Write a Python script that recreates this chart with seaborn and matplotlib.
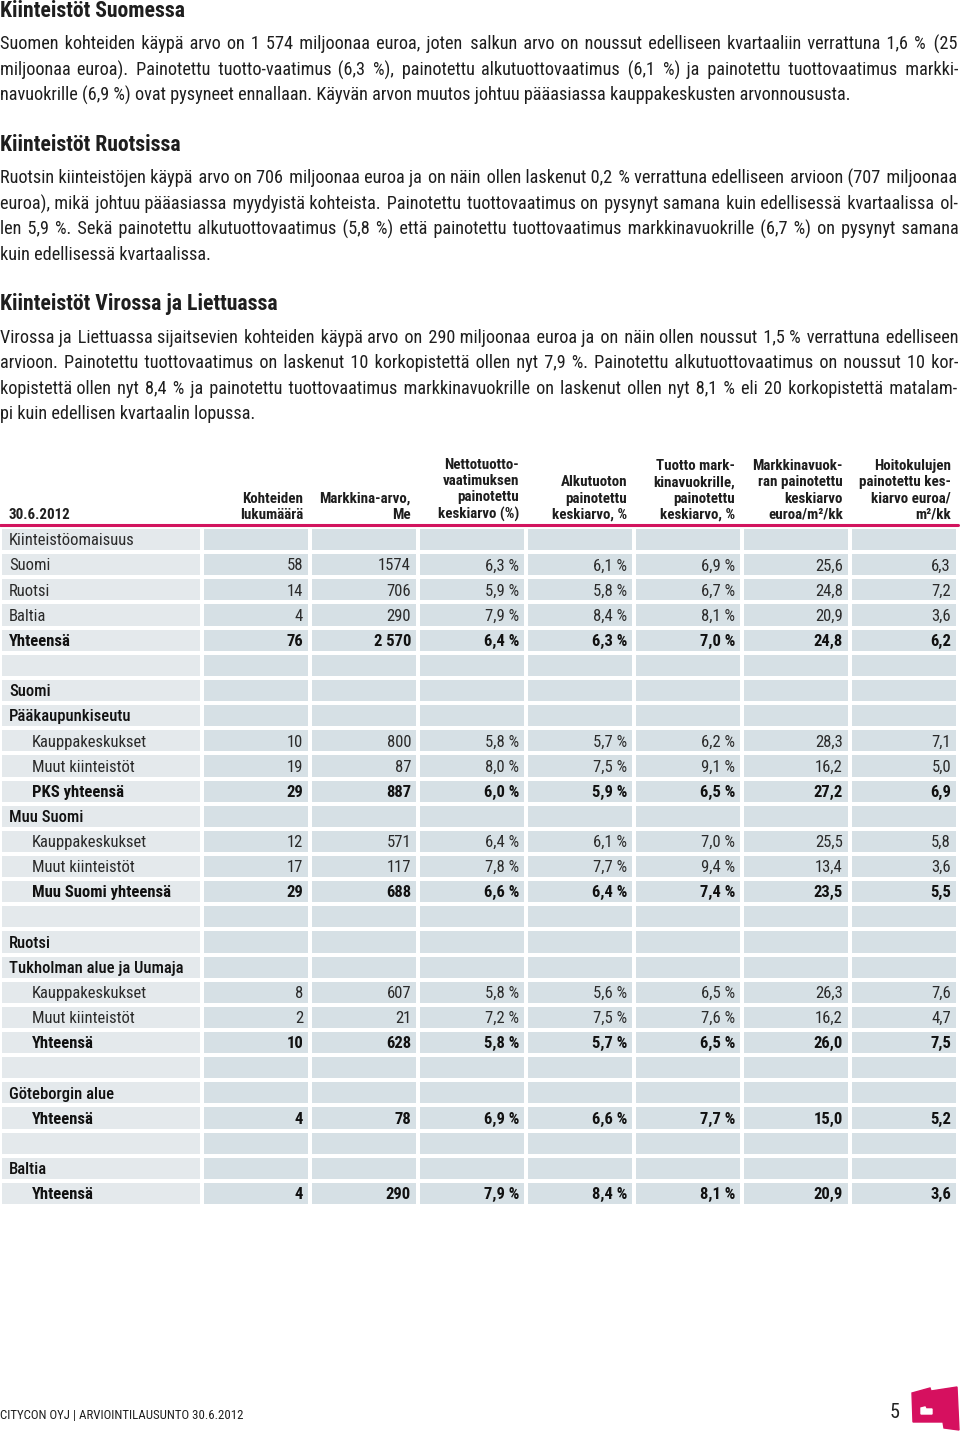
import matplotlib
matplotlib.use("Agg")
import numpy as np
import seaborn as sns
import matplotlib.pyplot as plt
from matplotlib import font_manager
from matplotlib.colors import ListedColormap
from matplotlib.patches import Polygon

# ---------------- Data ----------------
headings = ["Kiinteistöt Suomessa", "Kiinteistöt Ruotsissa", "Kiinteistöt Virossa ja Liettuassa"]

paragraphs = [
    ["Suomen kohteiden käypä arvo on 1 574 miljoonaa euroa, joten salkun arvo on noussut edelliseen kvartaaliin verrattuna 1,6 % (25",
     "miljoonaa euroa). Painotettu tuotto-vaatimus (6,3 %), painotettu alkutuottovaatimus (6,1 %) ja painotettu tuottovaatimus markki-",
     "navuokrille (6,9 %) ovat pysyneet ennallaan. Käyvän arvon muutos johtuu pääasiassa kauppakeskusten arvonnoususta."],
    ["Ruotsin kiinteistöjen käypä arvo on 706 miljoonaa euroa ja on näin ollen laskenut 0,2 % verrattuna edelliseen arvioon (707 miljoonaa",
     "euroa), mikä johtuu pääasiassa myydyistä kohteista. Painotettu tuottovaatimus on pysynyt samana kuin edellisessä kvartaalissa ol-",
     "len 5,9 %. Sekä painotettu alkutuottovaatimus (5,8 %) että painotettu tuottovaatimus markkinavuokrille (6,7 %) on pysynyt samana",
     "kuin edellisessä kvartaalissa."],
    ["Virossa ja Liettuassa sijaitsevien kohteiden käypä arvo on 290 miljoonaa euroa ja on näin ollen noussut 1,5 % verrattuna edelliseen",
     "arvioon. Painotettu tuottovaatimus on laskenut 10 korkopistettä ollen nyt 7,9 %. Painotettu alkutuottovaatimus on noussut 10 kor-",
     "kopistettä ollen nyt 8,4 % ja painotettu tuottovaatimus markkinavuokrille on laskenut ollen nyt 8,1 % eli 20 korkopistettä matalam-",
     "pi kuin edellisen kvartaalin lopussa."],
]

date_label = "30.6.2012"
col_headers = [
    "Kohteiden\nlukumäärä",
    "Markkina-arvo,\nMe",
    "Nettotuotto-\nvaatimuksen\npainotettu\nkeskiarvo (%)",
    "Alkutuoton\npainotettu\nkeskiarvo, %",
    "Tuotto mark-\nkinavuokrille,\npainotettu\nkeskiarvo, %",
    "Markkinavuok-\nran painotettu\nkeskiarvo\neuroa/m²/kk",
    "Hoitokulujen\npainotettu kes-\nkiarvo euroa/\nm²/kk",
]

row_labels = ["Kiinteistöomaisuus", "Suomi", "Ruotsi", "Baltia", "Yhteensä", "",
              "Suomi", "Pääkaupunkiseutu", "Kauppakeskukset", "Muut kiinteistöt", "PKS yhteensä",
              "Muu Suomi", "Kauppakeskukset", "Muut kiinteistöt", "Muu Suomi yhteensä", "",
              "Ruotsi", "Tukholman alue ja Uumaja", "Kauppakeskukset", "Muut kiinteistöt", "Yhteensä", "",
              "Göteborgin alue", "Yhteensä", "", "Baltia", "Yhteensä"]
row_indent = [0, 0, 0, 0, 0, 0,
              0, 0, 1, 1, 1, 0, 1, 1, 1, 0,
              0, 0, 1, 1, 1, 0,
              0, 1, 0, 0, 1]
# n = normal, m = section header, b = total row
row_kind = ["n", "n", "n", "n", "b", "n",
            "m", "m", "n", "n", "b", "m", "n", "n", "b", "n",
            "m", "m", "n", "n", "b", "n",
            "m", "b", "n", "m", "b"]

count = [None, 58, 14, 4, 76, None,
         None, None, 10, 19, 29, None, 12, 17, 29, None,
         None, None, 8, 2, 10, None,
         None, 4, None, None, 4]
market_value = [None, "1574", "706", "290", "2 570", None,
                None, None, "800", "87", "887", None, "571", "117", "688", None,
                None, None, "607", "21", "628", None,
                None, "78", None, None, "290"]
net_yield = [None, 6.3, 5.9, 7.9, 6.4, None,
             None, None, 5.8, 8.0, 6.0, None, 6.4, 7.8, 6.6, None,
             None, None, 5.8, 7.2, 5.8, None,
             None, 6.9, None, None, 7.9]
initial_yield = [None, 6.1, 5.8, 8.4, 6.3, None,
                 None, None, 5.7, 7.5, 5.9, None, 6.1, 7.7, 6.4, None,
                 None, None, 5.6, 7.5, 5.7, None,
                 None, 6.6, None, None, 8.4]
market_rent_yield = [None, 6.9, 6.7, 8.1, 7.0, None,
                     None, None, 6.2, 9.1, 6.5, None, 7.0, 9.4, 7.4, None,
                     None, None, 6.5, 7.6, 6.5, None,
                     None, 7.7, None, None, 8.1]
market_rent = [None, 25.6, 24.8, 20.9, 24.8, None,
               None, None, 28.3, 16.2, 27.2, None, 25.5, 13.4, 23.5, None,
               None, None, 26.3, 16.2, 26.0, None,
               None, 15.0, None, None, 20.9]
maint_costs = [None, 6.3, 7.2, 3.6, 6.2, None,
               None, None, 7.1, 5.0, 6.9, None, 5.8, 3.6, 5.5, None,
               None, None, 7.6, 4.7, 7.5, None,
               None, 5.2, None, None, 3.6]

footer = "CITYCON OYJ | ARVIOINTILAUSUNTO 30.6.2012"
page_no = "5"


def fi_num(v):
    return f"{v:.1f}".replace(".", ",")


def fi_pct(v):
    return fi_num(v) + " %"


columns = [
    (count, str),
    (market_value, str),
    (net_yield, fi_pct),
    (initial_yield, fi_pct),
    (market_rent_yield, fi_pct),
    (market_rent, fi_num),
    (maint_costs, fi_num),
]

# ---------------- Style ----------------
sns.set_theme(style="white")
names = {f.name for f in font_manager.fontManager.ttflist}
FONT = "Roboto"
for cand in ["Roboto Condensed", "Liberation Sans Narrow", "DejaVu Sans Condensed", "Roboto"]:
    if cand in names:
        FONT = cand
        break
plt.rcParams["font.family"] = [FONT, "DejaVu Sans"]

PINK = "#d2145e"
TXT = "#1e1e1e"
LIGHT = "#e4e9ec"
DARK = "#d6e0e5"

W, H = 960, 1432
fig = plt.figure(figsize=(W / 100, H / 100), dpi=100)
fig.patch.set_facecolor("white")


def frac(x0, y0, x1, y1):
    return [x0 / W, 1 - y1 / H, (x1 - x0) / W, (y1 - y0) / H]


# page overlay in pixel units
ax = fig.add_axes([0, 0, 1, 1])
ax.set_xlim(0, W)
ax.set_ylim(H, 0)
ax.axis("off")

r = fig.canvas.get_renderer()


def text_w(s, size, weight="normal"):
    t = ax.text(0, 0, s, fontsize=size, fontweight=weight)
    w = t.get_window_extent(renderer=r).width
    t.remove()
    return w


def fit(s, target, weight="normal", base=12.0):
    # font size that makes s about target pixels wide
    return base * target / text_w(s, base, weight)


head_fs = fit("Kiinteistöt Suomessa", 186, "bold")
cell_fs = min(fit("Kauppakeskukset", 115), 13.5)
colh_fs = min(fit("Hoitokulujen", 77, "bold"), 11)
foot_fs = fit(footer, 244)

# ---------------- Table ----------------
nrows = len(row_labels)
top, row_h = 527, 25.15
bottom = top + nrows * row_h
ax_lab = fig.add_axes(frac(0, top, 202, bottom))
ax_num = fig.add_axes(frac(202, top, 958, bottom))

sns.heatmap(np.zeros((nrows, 1)), ax=ax_lab, cmap=ListedColormap([LIGHT]), vmin=0, vmax=1,
            cbar=False, linewidths=1.5, linecolor="white", xticklabels=False, yticklabels=False)
sns.heatmap(np.zeros((nrows, len(columns))), ax=ax_num, cmap=ListedColormap([DARK]), vmin=0, vmax=1,
            cbar=False, linewidths=1.5, linecolor="white", xticklabels=False, yticklabels=False)

for a in (ax_lab, ax_num):
    a.axhline(-0.07, color=PINK, lw=2.2, clip_on=False, zorder=5)

ax_lab.text(9 / 202, -0.2, date_label, ha="left", va="bottom", fontsize=colh_fs,
            fontweight="bold", color=TXT)
pad = 7 / 108
for j, h in enumerate(col_headers):
    ax_num.text(j + 1 - pad, -0.2, h, ha="right", va="bottom", fontsize=colh_fs,
                fontweight="bold", color=TXT, linespacing=1.22)

for i, lab in enumerate(row_labels):
    kind = row_kind[i]
    weight = {"b": "bold", "m": "medium", "n": "normal"}[kind]
    color = "#111111" if kind in ("b", "m") else "#2a2a2a"
    x = (32 if row_indent[i] else 9) / 202
    ax_lab.text(x, i + 0.55, lab, ha="left", va="center", fontsize=cell_fs,
                fontweight=weight, color=color)
    for j, (vals, fmt) in enumerate(columns):
        v = vals[i]
        if v is None:
            continue
        ax_num.text(j + 1 - pad, i + 0.55, fmt(v), ha="right", va="center", fontsize=cell_fs,
                    fontweight="bold" if kind == "b" else "normal", color=color)

# ---------------- Text blocks ----------------
right_edge = 958
body_fs = 14.0
widest = max(text_w(l, body_fs) for p in paragraphs for l in p[:-1])
body_fs = min(body_fs, body_fs * (right_edge - 4) / widest)

# hair spaces are used to stretch word gaps so lines end flush right
HAIR = "\u200a"
hair_w = text_w("a" + HAIR * 10 + "a", body_fs) - text_w("aa", body_fs)
if hair_w <= 0.5:
    HAIR = "\u2009"
    hair_w = text_w("a" + HAIR * 10 + "a", body_fs) - text_w("aa", body_fs)
hair_w /= 10


def justify(line):
    words = line.split(" ")
    extra = right_edge - text_w(line, body_fs)
    n_hair = max(0, int(round(extra / hair_w)))
    gaps = len(words) - 1
    out = words[0]
    for g in range(gaps):
        k = n_hair * (g + 1) // gaps - n_hair * g // gaps
        out += " " + HAIR * k + words[g + 1]
    return out


heading_base = [17, 151, 310]
para_base = [50, 184, 343]
line_gap = 25.4

for k, head in enumerate(headings):
    ax.text(0, heading_base[k], head, ha="left", va="baseline", fontsize=head_fs,
            fontweight="bold", color=TXT)
    lines = paragraphs[k]
    for n, line in enumerate(lines):
        y = para_base[k] + n * line_gap
        s = line if n == len(lines) - 1 else justify(line)
        ax.text(0, y, s, ha="left", va="baseline", fontsize=body_fs, color=TXT)

# ---------------- Footer ----------------
ax.text(0, 1419, footer, ha="left", va="baseline", fontsize=foot_fs, color=TXT)
ax.text(900, 1418, page_no, ha="right", va="baseline", fontsize=14.5, color="#222222")
ax.add_patch(Polygon([(912, 1393), (930, 1388), (931, 1391), (957, 1387), (959, 1430),
                      (944, 1428), (943, 1422), (913, 1422)], closed=True, color="#d6105f"))
ax.add_patch(Polygon([(921, 1408), (925, 1407), (926, 1409), (932, 1409), (932, 1414),
                      (921, 1414)], closed=True, color="white"))

fig.savefig("out.png", dpi=100)
